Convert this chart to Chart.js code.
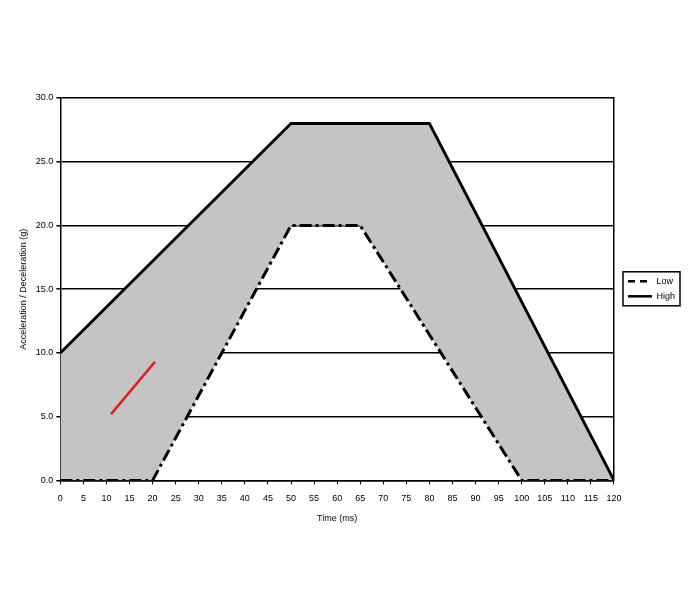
<!DOCTYPE html>
<html>
<head>
<meta charset="utf-8">
<script src="https://cdn.jsdelivr.net/npm/chart.js@4/dist/chart.umd.min.js"></script>
<style>
  body { margin: 0; background: #fff; }
  #wrap { width: 697px; height: 613px; }
</style>
</head>
<body>
<div id="wrap"><canvas id="pulseChart" width="697" height="613"></canvas></div>
<script>
// corridor limits, time in ms, accel in g
const lowTime = [0, 20, 50, 65, 100, 120]
const lowAccel = [0, 0, 20, 20, 0, 0]
const highTime = [0, 50, 80, 120]
const highAccel = [10, 28, 28, 0]
// red sample trace
const traceTime = [11, 20.5]
const traceAccel = [5.2, 9.3]

const toPoints = (xs, ys) => xs.map((x, i) => ({ x: x, y: ys[i] }))

const font = { family: 'Liberation Sans, Arial, sans-serif', size: 9 }

// box around the legend items, like the old excel legend
const legendBox = {
    id: 'legendBox',
    afterDraw(chart) {
        const boxes = chart.legend.legendHitBoxes
        if (!boxes || !boxes.length) return
        const left = Math.min(...boxes.map(b => b.left)) - 5
        const top = Math.min(...boxes.map(b => b.top)) - 5
        const right = Math.max(...boxes.map(b => b.left + b.width)) + 5
        const bottom = Math.max(...boxes.map(b => b.top + b.height)) + 5
        const ctx = chart.ctx
        ctx.save()
        ctx.strokeStyle = '#000'
        ctx.lineWidth = 1.5
        ctx.strokeRect(left, top, right - left, bottom - top)
        ctx.restore()
    }
}

const ctx = document.getElementById('pulseChart').getContext('2d')
const myChart = new Chart(ctx, {
    type: 'line',
    data: {
        datasets: [
            {
                label: 'Low',
                data: toPoints(lowTime, lowAccel),
                borderColor: '#000',
                borderWidth: 3,
                borderDash: [12, 4, 3, 4],
                pointRadius: 0,
                fill: false
            },
            {
                label: 'High',
                data: toPoints(highTime, highAccel),
                borderColor: '#000',
                borderWidth: 2.8,
                pointRadius: 0,
                fill: { target: 0, above: '#c4c4c4', below: '#c4c4c4' }
            },
            {
                label: 'trace',
                data: toPoints(traceTime, traceAccel),
                borderColor: '#e0201c',
                borderWidth: 2.5,
                pointRadius: 0,
                fill: false,
                order: -1
            }
        ]
    },
    options: {
        responsive: false,
        animation: false,
        layout: { padding: { left: 14, right: 12, top: 98, bottom: 85 } },
        plugins: {
            filler: { drawTime: 'beforeDatasetsDraw' },
            tooltip: { enabled: false },
            legend: {
                position: 'right',
                align: 'start',
                // empty title just pushes the items down to mid height
                title: { display: true, text: ' ', font: font, padding: { top: 0, bottom: 162 } },
                labels: {
                    filter: item => item.text !== 'trace',
                    generateLabels: chart => Chart.defaults.plugins.legend.labels.generateLabels(chart).map(item => {
                        item.lineDash = item.text === 'Low' ? [7, 5] : []
                        item.lineWidth = 2.5
                        return item
                    }),
                    usePointStyle: true,
                    pointStyle: 'line',
                    pointStyleWidth: 24,
                    boxHeight: 9,
                    color: '#000',
                    font: font,
                    padding: 6
                }
            }
        },
        scales: {
            x: {
                type: 'linear',
                min: 0,
                max: 120,
                title: { display: true, text: 'Time (ms)', color: '#000', font: font, padding: { top: 0 } },
                ticks: { stepSize: 5, color: '#000', font: font, maxRotation: 0, autoSkip: false, padding: 9 },
                grid: { drawOnChartArea: false, drawTicks: true, tickLength: 4, color: '#000' },
                border: { color: '#000', width: 1.5 }
            },
            y: {
                min: 0,
                max: 30,
                title: { display: true, text: 'Acceleration / Deceleration (g)', color: '#000', font: font },
                ticks: {
                    stepSize: 5,
                    color: '#000',
                    font: font,
                    callback: v => v.toFixed(1)
                },
                grid: { color: '#000', lineWidth: 1.5, tickLength: 4 },
                border: { color: '#000', width: 1.5 }
            },
            yRight: {
                position: 'right',
                min: 0,
                max: 30,
                ticks: { display: false },
                grid: { display: false },
                border: { color: '#000', width: 1.5 }
            }
        }
    },
    plugins: [legendBox]
})
</script>
</body>
</html>
